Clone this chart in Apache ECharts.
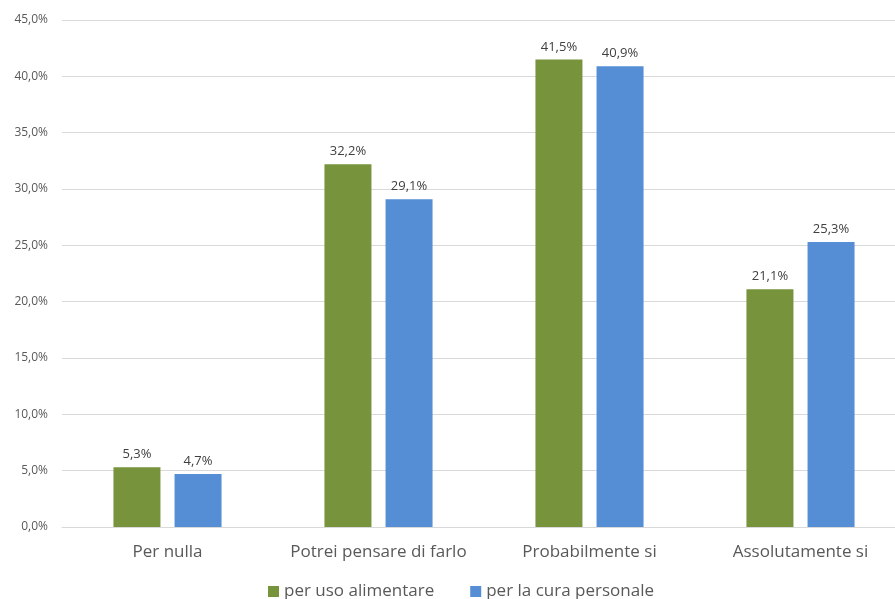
<!DOCTYPE html>
<html>
<head>
<meta charset="utf-8">
<script src="https://cdn.jsdelivr.net/npm/echarts@6/dist/echarts.min.js"></script>
<style>
html,body{margin:0;padding:0;background:#fff;overflow:hidden;}
#chart{width:912px;height:599px;}
</style>
</head>
<body>
<div id="chart"></div>
<script>
const categories = ['Per nulla', 'Potrei pensare di farlo', 'Probabilmente si', 'Assolutamente si'];
const seriesNames = ['per uso alimentare', 'per la cura personale'];
const alimentare = [5.3, 32.2, 41.5, 21.1];
const curaPersonale = [4.7, 29.1, 40.9, 25.3];

const fmt = v => v.toFixed(1).replace('.', ',') + '%';
const font = '"Open Sans", sans-serif';

const chart = echarts.init(document.getElementById('chart'));
chart.setOption({
  animation: false,
  textStyle: { fontFamily: font },
  grid: { left: 62, top: 20, width: 844, height: 507, containLabel: false },
  legend: {
    top: 583, left: 268, padding: 0,
    itemWidth: 11, itemHeight: 11, itemGap: 36,
    icon: 'rect',
    textStyle: { fontSize: 17, color: '#595959', fontFamily: font },
    data: seriesNames
  },
  xAxis: {
    type: 'category',
    data: categories,
    axisLine: { lineStyle: { color: '#d9d9d9' } },
    axisTick: { show: false },
    axisLabel: { interval: 0, fontSize: 17, color: '#595959', margin: 17, fontFamily: font }
  },
  yAxis: {
    type: 'value',
    min: 0, max: 45, interval: 5,
    axisLine: { show: false },
    axisTick: { show: false },
    splitLine: { lineStyle: { color: '#d9d9d9' } },
    axisLabel: { fontSize: 12, color: '#595959', margin: 14, formatter: v => fmt(v), fontFamily: font }
  },
  series: [
    {
      name: seriesNames[0], type: 'bar', data: alimentare,
      barWidth: 47, barGap: '30%',
      itemStyle: { color: '#77933C' },
      label: { show: true, position: 'top', distance: 6, fontSize: 13, color: '#404040', formatter: p => fmt(p.value), fontFamily: font }
    },
    {
      name: seriesNames[1], type: 'bar', data: curaPersonale,
      barWidth: 47,
      itemStyle: { color: '#558ED5' },
      label: { show: true, position: 'top', distance: 6, fontSize: 13, color: '#404040', formatter: p => fmt(p.value), fontFamily: font }
    }
  ]
});
</script>
</body>
</html>
